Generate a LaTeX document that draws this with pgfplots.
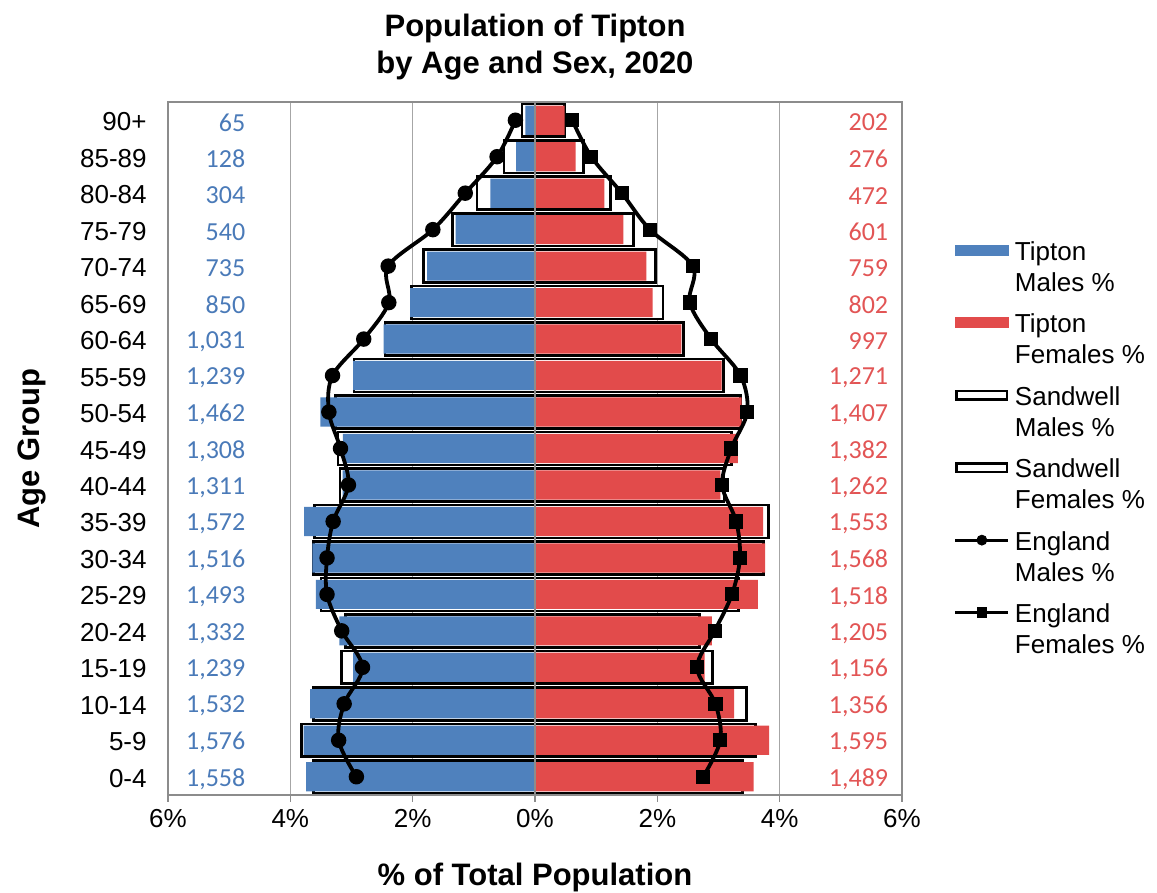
\documentclass[border=0pt]{standalone}
\usepackage{pgfplots}
\pgfplotsset{compat=1.18}
\usepackage{pgfplotstable}
\usepackage{fontspec}
\setmainfont{Liberation Sans}
\newfontfamily\calibri{Carlito}
\definecolor{tblue}{HTML}{4F81BD}
\definecolor{tred}{HTML}{E24B4B}
\definecolor{nblue}{HTML}{4A7AB8}
\definecolor{nred}{HTML}{E25555}
\definecolor{gridgray}{HTML}{A6A6A6}
\definecolor{axisgray}{HTML}{8C8C8C}

\pgfplotstableread{
y TM TF SM SF EM EF TMc TFc
0 3.740 3.574 3.62 3.39 2.92 2.75 1,558 1,489
1 3.783 3.828 3.82 3.60 3.21 3.03 1,576 1,595
2 3.677 3.255 3.62 3.46 3.12 2.95 1,532 1,356
3 2.974 2.775 3.16 2.90 2.82 2.65 1,239 1,156
4 3.197 2.892 3.10 2.69 3.16 2.94 1,332 1,205
5 3.584 3.644 3.50 3.33 3.40 3.22 1,493 1,518
6 3.639 3.764 3.62 3.74 3.40 3.35 1,516 1,568
7 3.773 3.728 3.60 3.82 3.30 3.29 1,572 1,553
8 3.147 3.029 3.19 3.09 3.05 3.06 1,311 1,262
9 3.140 3.317 3.22 3.21 3.18 3.21 1,308 1,382
10 3.509 3.377 3.26 3.36 3.37 3.47 1,462 1,407
11 2.974 3.051 2.96 3.08 3.31 3.36 1,239 1,271
12 2.475 2.393 2.45 2.43 2.80 2.88 1,031 997
13 2.040 1.925 2.02 2.09 2.39 2.53 850 802
14 1.764 1.822 1.82 1.97 2.40 2.58 735 759
15 1.296 1.443 1.35 1.61 1.67 1.88 540 601
16 0.730 1.133 0.945 1.23 1.14 1.42 304 472
17 0.307 0.663 0.51 0.79 0.62 0.92 128 276
18 0.156 0.485 0.215 0.48 0.32 0.61 65 202
}\data

\begin{document}
\begin{tikzpicture}
\useasboundingbox (-84pt,-49pt) rectangle (494.5pt,397.5pt);
\begin{axis}[
  scale only axis, width=367pt, height=346.5pt,
  xmin=-6, xmax=6, ymin=-0.5, ymax=18.5,
  xtick={-6,-4,...,6},
  xticklabels={6\%,4\%,2\%,0\%,2\%,4\%,6\%},
  ytick={0,...,18},
  yticklabels={0-4,5-9,10-14,15-19,20-24,25-29,30-34,35-39,40-44,45-49,50-54,55-59,60-64,65-69,70-74,75-79,80-84,85-89,90+},
  xmajorgrids, major grid style={gridgray, line width=0.75pt},
  axis line style={axisgray, line width=0.75pt},
  xtick style={axisgray, line width=0.75pt},
  ytick style={draw=none},
  tick align=outside, xtick pos=left, ytick pos=left, major tick length=3.5pt,
  tick label style={font=\fontsize{13}{15}\selectfont},
  xticklabel style={anchor=base, inner sep=0pt, yshift=-13pt},
  yticklabel style={anchor=east, inner sep=0pt, xshift=-7pt, yshift=-0.8pt},
  title={Population of Tipton\\by Age and Sex, 2020},
  title style={font=\bfseries\fontsize{15.5}{18.5}\selectfont, align=center, at={(axis description cs:0.5,1)}, anchor=south, inner sep=0pt, yshift=4.7pt},
  xlabel={\% of Total Population},
  xlabel style={font=\bfseries\fontsize{15.5}{18}\selectfont, at={(axis description cs:0.5,0)}, anchor=base, inner sep=0pt, yshift=-45.5pt},
  ylabel={Age Group},
  ylabel style={font=\bfseries\fontsize{15.5}{18}\selectfont, at={([xshift=-64pt]axis description cs:0,0.5)}, anchor=base, inner sep=0pt},
  legend style={at={(axis description cs:1.070,0.805)}, anchor=north west, draw=none, fill=none, inner sep=0pt, row sep=5.8pt, column sep=0.5pt, font=\fontsize{13}{15.5}\selectfont, cells={align=left, anchor=base west, inner sep=0pt}},
]
% Sandwell outline bars (behind)
\addplot[forget plot, xbar, bar width=0.9, bar shift=0pt, fill=white, draw=black, line width=1.3pt] table[x expr=-\thisrow{SM}, y=y] {\data};
\addplot[forget plot, xbar, bar width=0.9, bar shift=0pt, fill=white, draw=black, line width=1.3pt] table[x=SF, y=y] {\data};
% Tipton bars
\addplot[forget plot, xbar, bar width=0.8, bar shift=0pt, fill=tblue, draw=none] table[x expr=-\thisrow{TM}, y=y] {\data};
\addplot[forget plot, xbar, bar width=0.8, bar shift=0pt, fill=tred, draw=none] table[x=TF, y=y] {\data};
% zero line
\addplot[forget plot, axisgray, line width=0.75pt] coordinates {(0,-0.5) (0,18.5)};
% England lines
\addplot[forget plot, smooth, tension=0.55, black, line width=1.9pt, mark=*, mark size=2.9pt] table[x expr=-\thisrow{EM}, y=y] {\data};
\addplot[forget plot, smooth, tension=0.55, black, line width=1.9pt, mark=square*, mark size=2.6pt] table[x=EF, y=y] {\data};
% count labels
\addplot[forget plot, only marks, mark=none, nodes near coords, point meta=explicit symbolic, nodes near coords align=center, nodes near coords style={anchor=east, inner sep=0pt, yshift=-1.2pt, font=\calibri\fontsize{13}{15}\selectfont, text=nblue}] table[x expr=-4.73, y=y, meta=TMc] {\data};
\addplot[forget plot, only marks, mark=none, nodes near coords, point meta=explicit symbolic, nodes near coords align=center, nodes near coords style={anchor=east, inner sep=0pt, yshift=-1.2pt, font=\calibri\fontsize{13}{15}\selectfont, text=nred}] table[x expr=5.78, y=y, meta=TFc] {\data};
% legend images
\addlegendimage{legend image code/.code={\fill[tblue] (0pt,18pt) rectangle (26.5pt,23pt);}}
\addlegendimage{legend image code/.code={\fill[tred] (0pt,18pt) rectangle (26.5pt,23pt);}}
\addlegendimage{legend image code/.code={\draw[black, line width=1.3pt, fill=white] (0.6pt,18.3pt) rectangle (25.9pt,22.7pt);}}
\addlegendimage{legend image code/.code={\draw[black, line width=1.3pt, fill=white] (0.6pt,18.3pt) rectangle (25.9pt,22.7pt);}}
\addlegendimage{legend image code/.code={\draw[black, line width=1.6pt] (0pt,20.5pt) -- (26.5pt,20.5pt); \fill[black] (13.25pt,20.5pt) circle (2.5pt);}}
\addlegendimage{legend image code/.code={\draw[black, line width=1.6pt] (0pt,20.5pt) -- (26.5pt,20.5pt); \fill[black] (10.9pt,18.15pt) rectangle (15.6pt,22.85pt);}}
\legend{{Tipton\\Males \%},{Tipton\\Females \%},{Sandwell\\Males \%},{Sandwell\\Females \%},{England\\Males \%},{England\\Females \%}}
\end{axis}
\end{tikzpicture}
\end{document}
